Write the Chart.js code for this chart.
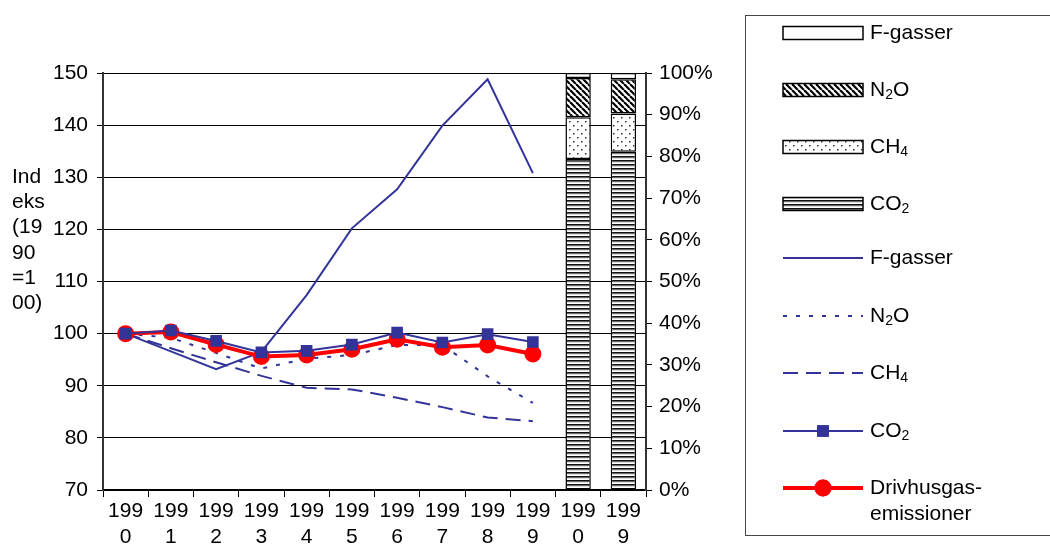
<!DOCTYPE html>
<html>
<head>
<meta charset="utf-8">
<script src="https://cdn.jsdelivr.net/npm/chart.js@4.4.1/dist/chart.umd.min.js"></script>
<style>
  html, body { margin: 0; padding: 0; background: #fff; }
  #wrap { width: 1050px; height: 548px; }
</style>
</head>
<body>
<div id="wrap"><canvas id="ghgChart" width="1050" height="548"></canvas></div>
<script>
//Data - index 1990=100 per gas, and the share of each gas in 1990 and 1999
var years = ["1990", "1991", "1992", "1993", "1994", "1995", "1996", "1997", "1998", "1999"];
var barYears = ["1990", "1999"];

var totalIdx = [100, 100.3, 97.9, 95.6, 95.9, 97.0, 98.9, 97.4, 97.8, 96.1];
var co2Idx   = [100, 100.6, 98.6, 96.4, 96.7, 97.9, 100.2, 98.3, 99.9, 98.4];
var ch4Idx   = [100, 97.2, 94.5, 91.9, 89.6, 89.3, 87.7, 85.9, 83.9, 83.2];
var n2oIdx   = [100, 99.2, 96.3, 93.3, 95.2, 95.9, 97.8, 97.8, 91.8, 86.7];
var fgasIdx  = [100, 96.6, 93.2, 96.5, 107.4, 120.2, 127.7, 139.9, 148.8, 130.8];

var co2Share  = [79.4, 81.1];
var ch4Share  = [10.0, 9.2];
var n2oShare  = [9.4, 8.2];
var fgasShare = [1.2, 1.5];

var leftTicks = { min: 70, max: 150, step: 10 };
var rightTicks = { min: 0, max: 100, step: 10 };
var axisTitle = ["Ind", "eks", "(19", "90", "=1", "00)"];

var FONT = "'Liberation Sans', Arial, sans-serif";
var BLUE = "#333399";
var RED = "#ff0000";

//Building labels "199" / "0" on two lines
var labels = years.concat(barYears).map(function(y) {
  return [y.slice(0, 3), y.slice(3)];
});
function lineData(arr) { return arr.concat([null, null]); }
function barData(arr) { return new Array(years.length).fill(null).concat(arr); }

//Patterns for the stacked bars
function makePattern(w, h, draw) {
  var c = document.createElement("canvas");
  c.width = w; c.height = h;
  var g = c.getContext("2d");
  g.fillStyle = "#fff";
  g.fillRect(0, 0, w, h);
  draw(g);
  return document.getElementById("ghgChart").getContext("2d").createPattern(c, "repeat");
}
var co2Pattern = makePattern(4, 4, function(g) {
  g.fillStyle = "#111"; g.fillRect(0, 0, 4, 1);
  g.fillStyle = "#666"; g.fillRect(0, 1, 4, 1);
  g.fillStyle = "#ddd"; g.fillRect(0, 2, 4, 1);
});
var ch4Pattern = makePattern(8, 8, function(g) {
  g.fillStyle = "#333";
  g.fillRect(1, 1, 1.5, 1.5);
  g.fillRect(5, 5, 1.5, 1.5);
});
var n2oPattern = makePattern(6, 6, function(g) {
  g.strokeStyle = "#000";
  g.lineWidth = 2.2;
  for (var o = -6; o <= 6; o += 6) {
    g.beginPath(); g.moveTo(o, 0); g.lineTo(o + 6, 6); g.stroke();
  }
});

var ctx = document.getElementById("ghgChart").getContext("2d");

//Custom legend + vertical axis title drawn on the canvas
var sideLegend = {
  id: "sideLegend",
  afterDraw: function(chart) {
    var c = chart.ctx;
    var ds = chart.data.datasets;
    c.save();
    c.font = "21px " + FONT;
    c.fillStyle = "#000";
    c.textBaseline = "middle";
    c.textAlign = "left";
    axisTitle.forEach(function(t, i) { c.fillText(t, 12, 177 + i * 25.3); });

    c.strokeStyle = "#444";
    c.lineWidth = 1;
    c.strokeRect(745.5, 15.5, 330, 520);

    var rows = [
      { i: 8, y: 33 }, { i: 7, y: 90 }, { i: 6, y: 147 }, { i: 5, y: 204 },
      { i: 2, y: 258 }, { i: 3, y: 316 }, { i: 4, y: 373 }, { i: 1, y: 431 }, { i: 0, y: 488 }
    ];
    rows.forEach(function(r) {
      var d = ds[r.i];
      if (d.type === "bar") {
        c.fillStyle = d.backgroundColor;
        c.fillRect(783, r.y - 6.5, 80, 13);
        c.strokeStyle = "#000";
        c.lineWidth = 1.5;
        c.strokeRect(783, r.y - 6.5, 80, 13);
      } else {
        c.strokeStyle = d.borderColor;
        c.lineWidth = d.borderWidth;
        c.setLineDash(d.borderDash || []);
        c.beginPath(); c.moveTo(783, r.y); c.lineTo(863, r.y); c.stroke();
        c.setLineDash([]);
        if (d.pointRadius > 0) {
          Chart.helpers.drawPoint(c, {
            pointStyle: d.pointStyle, radius: d.pointRadius, borderWidth: 1, rotation: 0
          }, 823, r.y);
          c.fillStyle = d.pointBackgroundColor;
          c.strokeStyle = d.pointBorderColor;
          Chart.helpers.drawPoint(c, {
            pointStyle: d.pointStyle, radius: d.pointRadius, borderWidth: 1, rotation: 0
          }, 823, r.y);
        }
      }
      c.fillStyle = "#000";
      var lines = d.label.split("\n");
      lines.forEach(function(t, k) { drawRich(c, t, 870, r.y + k * 26); });
    });
    c.restore();
  }
};

//Draw text with small subscript digits
function drawRich(c, text, x, y) {
  var subs = { "\u2082": "2", "\u2084": "4" };
  for (var k = 0; k < text.length; k++) {
    var ch = text[k];
    if (subs[ch]) {
      c.font = "14px " + FONT;
      c.fillText(subs[ch], x, y + 5);
      x += c.measureText(subs[ch]).width;
    } else {
      c.font = "21px " + FONT;
      c.fillText(ch, x, y);
      x += c.measureText(ch).width;
    }
  }
}

var tickFont = { size: 21, family: FONT };

var chart = new Chart(ctx, {
  type: "line",
  data: {
    labels: labels,
    datasets: [
      {
        label: "Drivhusgas-\nemissioner", data: lineData(totalIdx), yAxisID: "y",
        borderColor: RED, borderWidth: 4, pointStyle: "circle", pointRadius: 6.5,
        pointBackgroundColor: RED, pointBorderColor: RED, order: 1
      },
      {
        label: "CO\u2082", data: lineData(co2Idx), yAxisID: "y",
        borderColor: BLUE, borderWidth: 2, pointStyle: "rect", pointRadius: 6.8,
        pointBackgroundColor: BLUE, pointBorderColor: BLUE, order: 0
      },
      {
        label: "F-gasser", data: lineData(fgasIdx), yAxisID: "y",
        borderColor: BLUE, borderWidth: 2, pointRadius: 0, order: 2
      },
      {
        label: "N\u2082O", data: lineData(n2oIdx), yAxisID: "y",
        borderColor: BLUE, borderWidth: 2, borderDash: [4, 9], pointRadius: 0, order: 3
      },
      {
        label: "CH\u2084", data: lineData(ch4Idx), yAxisID: "y",
        borderColor: BLUE, borderWidth: 2, borderDash: [15, 8], pointRadius: 0, order: 4
      },
      {
        type: "bar", label: "CO\u2082", data: barData(co2Share), yAxisID: "y1", stack: "share",
        backgroundColor: co2Pattern, borderColor: "#000", borderWidth: 1.5, borderSkipped: false, order: 5
      },
      {
        type: "bar", label: "CH\u2084", data: barData(ch4Share), yAxisID: "y1", stack: "share",
        backgroundColor: ch4Pattern, borderColor: "#000", borderWidth: 1.5, borderSkipped: false, order: 6
      },
      {
        type: "bar", label: "N\u2082O", data: barData(n2oShare), yAxisID: "y1", stack: "share",
        backgroundColor: n2oPattern, borderColor: "#000", borderWidth: 1.5, borderSkipped: false, order: 7
      },
      {
        type: "bar", label: "F-gasser", data: barData(fgasShare), yAxisID: "y1", stack: "share",
        backgroundColor: "#fff", borderColor: "#000", borderWidth: 1.5, borderSkipped: false, order: 8
      }
    ]
  },
  options: {
    responsive: false,
    animation: false,
    events: [],
    layout: { padding: { left: 0, right: 330, top: 73, bottom: 0 } },
    datasets: { bar: { barPercentage: 0.7, categoryPercentage: 0.8 } },
    plugins: { legend: { display: false }, tooltip: { enabled: false } },
    scales: {
      x: {
        offset: true,
        grid: { offset: true, drawOnChartArea: false, tickLength: 7, color: "#000" },
        border: { color: "#000", width: 2 },
        ticks: { color: "#000", font: tickFont, padding: 2, maxRotation: 0, autoSkip: false },
        afterFit: function(s) { s.height = 58; }
      },
      y: {
        position: "left", min: leftTicks.min, max: leftTicks.max,
        ticks: { stepSize: leftTicks.step, color: "#000", font: tickFont, padding: 9 },
        grid: { color: "#000", lineWidth: 1, tickLength: 6 },
        border: { color: "#333", width: 2 },
        afterFit: function(s) { s.width = 103; }
      },
      y1: {
        position: "right", min: rightTicks.min, max: rightTicks.max, stacked: true,
        ticks: { stepSize: rightTicks.step, color: "#000", font: tickFont, padding: 7,
          callback: function(v) { return v + "%"; } },
        grid: { drawOnChartArea: false, color: "#000", tickLength: 6 },
        border: { color: "#333", width: 2 },
        afterFit: function(s) { s.width = 74; }
      }
    }
  },
  plugins: [sideLegend]
});
</script>
</body>
</html>
